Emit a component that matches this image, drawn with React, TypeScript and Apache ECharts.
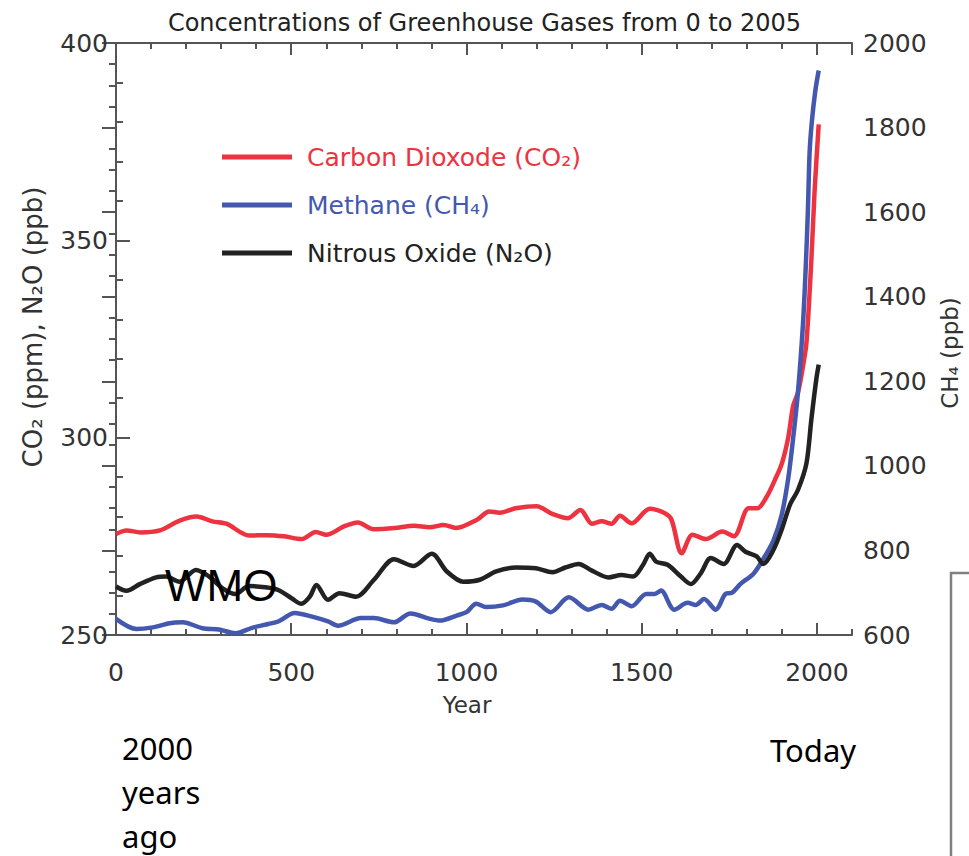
import React, { useEffect, useRef } from "react";
import * as echarts from "echarts";

// ---- Data ----
const yearsCO2 = [0, 30, 70, 125, 180, 230, 275, 315, 380, 430, 480, 530, 570, 600, 650, 690, 735, 795, 850, 895, 935, 970, 1030, 1065, 1095, 1140, 1200, 1245, 1290, 1325, 1358, 1386, 1414, 1438, 1471, 1523, 1565, 1585, 1614, 1645, 1683, 1730, 1763, 1805, 1830, 1857, 1880, 1900, 1918, 1932, 1946, 1960, 1970, 1984, 1993, 2005];
const co2 = [275.6, 276.5, 276.0, 276.5, 278.9, 280.0, 278.8, 278.2, 275.2, 275.3, 275.0, 274.3, 276.1, 275.4, 277.5, 278.5, 276.8, 277.1, 277.7, 277.3, 277.9, 277.1, 279.2, 281.3, 281.0, 282.1, 282.6, 280.7, 279.6, 281.7, 278.2, 278.8, 278.2, 280.2, 278.3, 282.0, 280.9, 279.2, 270.7, 275.4, 274.3, 276.2, 275.0, 282.1, 282.1, 285.1, 289.3, 293.5, 300.0, 308.0, 311.5, 318.0, 324.0, 345.0, 362.0, 379.4];

const yearsCH4 = [0, 58, 105, 153, 190, 247, 294, 341, 388, 435, 463, 510, 557, 605, 633, 699, 736, 793, 840, 896, 925, 972, 1000, 1028, 1056, 1104, 1160, 1198, 1240, 1292, 1348, 1386, 1414, 1438, 1471, 1513, 1537, 1555, 1593, 1631, 1654, 1678, 1711, 1739, 1758, 1782, 1819, 1847, 1876, 1899, 1918, 1932, 1946, 1960, 1968, 1974, 1979, 1985, 1995, 2005];
const ch4 = [638, 614, 618, 628, 630, 616, 613, 604, 617, 626, 632, 652, 644, 632, 622, 640, 640, 630, 651, 638, 634, 646, 654, 674, 666, 670, 684, 679, 654, 689, 660, 671, 662, 681, 668, 697, 697, 705, 660, 676, 671, 685, 660, 697, 700, 721, 745, 780, 824, 883, 970, 1065, 1176, 1334, 1470, 1600, 1740, 1810, 1885, 1935];

const yearsN2O = [0, 30, 68, 115, 143, 181, 228, 266, 303, 341, 379, 426, 463, 501, 529, 553, 572, 605, 638, 685, 736, 793, 849, 901, 944, 991, 1038, 1085, 1141, 1198, 1245, 1282, 1320, 1358, 1405, 1442, 1475, 1504, 1523, 1541, 1574, 1612, 1640, 1669, 1697, 1734, 1772, 1796, 1828, 1847, 1876, 1899, 1923, 1946, 1970, 1984, 1998, 2005];
const n2o = [262.3, 261.2, 262.9, 264.6, 264.8, 263.5, 266.5, 264.8, 261.9, 260.4, 262.4, 262.1, 261.4, 259.3, 257.9, 259.7, 262.7, 258.9, 260.6, 259.7, 264.0, 269.2, 267.5, 270.6, 266.1, 263.5, 264.0, 266.1, 267.1, 266.9, 265.9, 267.1, 268.0, 266.3, 264.6, 265.2, 264.8, 267.8, 270.6, 268.6, 267.8, 264.8, 262.9, 265.7, 269.5, 268.0, 272.8, 271.1, 269.9, 268.0, 271.6, 276.6, 283.0, 286.8, 293.5, 304.6, 314.7, 318.5];

const seriesNames = ["Carbon Dioxode (CO₂)", "Methane (CH₄)", "Nitrous Oxide (N₂O)"];
const seriesColors = ["#ee3340", "#4458b0", "#222222"];

const titleText = "Concentrations of Greenhouse Gases from 0 to 2005";
const xName = "Year";
const yLeftName = "CO₂ (ppm), N₂O (ppb)";
const yRightName = "CH₄ (ppb)";

const FONT = "'DejaVu Sans', Verdana, sans-serif";
const AXIS_COLOR = "#555";
const LABEL_COLOR = "#333";

function pairs(xs: number[], ys: number[]) {
  return xs.map((x, i) => [x, ys[i]]);
}

const plain = (v: number) => String(v);

export default function App() {
  const ref = useRef<HTMLDivElement>(null);

  useEffect(() => {
    if (!ref.current) return;
    const chart = echarts.init(ref.current, undefined, { renderer: "svg" });

    const axisLine = { show: true, lineStyle: { color: AXIS_COLOR, width: 2 } };
    const hiddenLine = { show: false };
    const label = { fontFamily: FONT, fontSize: 25, color: LABEL_COLOR, formatter: plain };

    const option: any = {
      animation: false,
      backgroundColor: "#ffffff",
      title: {
        text: titleText,
        left: "center",
        top: 6,
        textStyle: { fontFamily: FONT, fontSize: 24, fontWeight: "normal", color: "#222" },
      },
      grid: { left: 116, right: 111, top: 43, bottom: 221, containLabel: false },
      legend: {
        orient: "vertical",
        left: 217,
        top: 138,
        icon: "rect",
        itemWidth: 70,
        itemHeight: 5,
        itemGap: 20,
        selectedMode: false,
        data: seriesNames.map((n, i) => ({ name: n, textStyle: { color: seriesColors[i] } })),
        textStyle: { fontFamily: FONT, fontSize: 25, lineHeight: 28, padding: [0, 0, 0, 10] },
      },
      xAxis: [
        {
          type: "value", position: "bottom", min: 0, max: 2100, interval: 500,
          axisLine, splitLine: { show: false },
          axisTick: { show: true, inside: true, length: 12, lineStyle: { color: AXIS_COLOR, width: 2 } },
          axisLabel: { ...label, margin: 25, showMaxLabel: false },
          name: xName, nameLocation: "middle", nameGap: 58,
          nameTextStyle: { fontFamily: FONT, fontSize: 23, color: LABEL_COLOR, padding: [0, 34, 0, 0] },
        },
        {
          type: "value", position: "bottom", min: 0, max: 2100, interval: 100,
          axisLine: hiddenLine, splitLine: { show: false }, axisLabel: { show: false },
          axisTick: { show: true, inside: true, length: 6, lineStyle: { color: AXIS_COLOR, width: 2 } },
        },
        {
          type: "value", position: "top", min: 0, max: 2100, interval: 500,
          axisLine, splitLine: { show: false }, axisLabel: { show: false },
          axisTick: { show: true, inside: true, length: 12, lineStyle: { color: AXIS_COLOR, width: 2 } },
        },
        {
          type: "value", position: "top", min: 0, max: 2100, interval: 100,
          axisLine: hiddenLine, splitLine: { show: false }, axisLabel: { show: false },
          axisTick: { show: true, inside: true, length: 6, lineStyle: { color: AXIS_COLOR, width: 2 } },
        },
      ],
      yAxis: [
        {
          type: "value", position: "left", min: 250, max: 400, interval: 50,
          axisLine, splitLine: { show: false },
          axisTick: { show: true, inside: true, length: 14, lineStyle: { color: AXIS_COLOR, width: 2 } },
          axisLabel: { ...label, margin: 8 },
          name: yLeftName, nameLocation: "middle", nameGap: 70, nameRotate: 90,
          nameTextStyle: { fontFamily: FONT, fontSize: 26, color: LABEL_COLOR, padding: [0, 0, 0, 24] },
        },
        {
          type: "value", position: "left", min: 250, max: 400, interval: 10,
          axisLine: hiddenLine, splitLine: { show: false }, axisLabel: { show: false },
          axisTick: { show: true, inside: true, length: 7, lineStyle: { color: AXIS_COLOR, width: 2 } },
        },
        {
          type: "value", position: "right", min: 600, max: 2000, interval: 200,
          axisLine, splitLine: { show: false },
          axisTick: { show: true, inside: true, length: 14, lineStyle: { color: AXIS_COLOR, width: 2 } },
          axisLabel: { ...label, margin: 11 },
          name: yRightName, nameLocation: "middle", nameGap: 86, nameRotate: 90,
          nameTextStyle: { fontFamily: FONT, fontSize: 23, color: LABEL_COLOR, padding: [0, 28, 0, 0] },
        },
        {
          type: "value", position: "right", min: 600, max: 2000, interval: 50,
          axisLine: hiddenLine, splitLine: { show: false }, axisLabel: { show: false },
          axisTick: { show: true, inside: true, length: 7, lineStyle: { color: AXIS_COLOR, width: 2 } },
        },
      ],
      series: [
        {
          name: seriesNames[0], type: "line", xAxisIndex: 0, yAxisIndex: 0,
          data: pairs(yearsCO2, co2), smooth: 0.3, showSymbol: false,
          lineStyle: { color: seriesColors[0], width: 4.5 }, itemStyle: { color: seriesColors[0] },
        },
        {
          name: seriesNames[1], type: "line", xAxisIndex: 0, yAxisIndex: 2,
          data: pairs(yearsCH4, ch4), smooth: 0.3, showSymbol: false,
          lineStyle: { color: seriesColors[1], width: 4.5 }, itemStyle: { color: seriesColors[1] },
        },
        {
          name: seriesNames[2], type: "line", xAxisIndex: 0, yAxisIndex: 0,
          data: pairs(yearsN2O, n2o), smooth: 0.3, showSymbol: false,
          lineStyle: { color: seriesColors[2], width: 4.5 }, itemStyle: { color: seriesColors[2] },
        },
      ],
      graphic: [
        {
          type: "text", x: 165, y: 585, z: 100,
          style: { text: "WMO", fontFamily: "'Liberation Sans', Arial, sans-serif", fontSize: 44, fill: "#000", verticalAlign: "middle" },
        },
        {
          type: "text", x: 122, y: 726, z: 100,
          style: { text: "2000\nyears\nago", fontFamily: "'Noto Sans', sans-serif", fontSize: 31, lineHeight: 44, fill: "#000", verticalAlign: "top" },
        },
        {
          type: "text", x: 770, y: 750, z: 100,
          style: { text: "Today", fontFamily: "'Noto Sans', sans-serif", fontSize: 31, fill: "#000", verticalAlign: "middle" },
        },
        {
          type: "rect", z: 100,
          shape: { x: 951, y: 573, width: 60, height: 320 },
          style: { fill: "none", stroke: "#808080", lineWidth: 2.5 },
        },
      ],
    };

    chart.setOption(option);
    return () => chart.dispose();
  }, []);

  return <div ref={ref} style={{ position: "absolute", left: 0, top: 0, width: 969, height: 856 }} />;
}
